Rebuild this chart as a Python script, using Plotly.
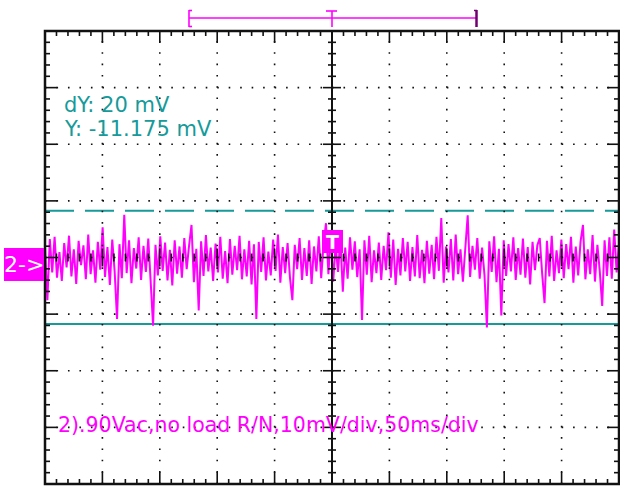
import plotly.graph_objects as go

# ---------------- data ----------------
time_per_div_ms = 50
volt_per_div_mv = 10
n_xdiv = 10
n_ydiv = 8
screen_center_mv = 0.55
cursor_y_mv = -11.175
cursor_dy_mv = 20
channel_label = "2->"
caption = "2).90Vac,no load R/N,10mV/div,50ms/div"
dy_text = "dY: 20 mV"
y_text = "Y: -11.175 mV"

noise_mv = [
    2.5, -7.0, 3.8, -2.1, 4.2, -3.0, 1.5, -3.6, 3.1, -1.2,
    4.4, -2.8, 2.0, -4.1, 3.5, -0.8, 2.7, -3.3, 4.6, -2.4,
    1.8, -3.9, 3.3, -1.6, 5.9, -2.9, 2.4, -4.3, 3.7, -1.9,
    -10.3, 2.9, -3.1, 8.1, -2.2, 3.6, -4.0, 2.2, -1.4, 4.1,
    -3.4, 2.6, -2.0, 3.9, -3.7, -11.5, 2.8, -2.6, 4.3, -1.8,
    3.2, -3.5, 1.9, -4.4, 3.6, -2.3, 2.5, -3.0, 4.0, -1.5,
    2.7, 6.3, -3.8, 2.1, -8.8, 3.4, -2.7, 4.5, -1.9, 2.3,
    -3.6, 3.0, -2.1, 4.2, -3.2, 1.7, -4.0, 3.8, -2.5, 2.6,
    -1.7, 4.4, -3.3, 2.0, -2.8, 3.5, -4.2, 2.9, -10.3, 3.3,
    -2.0, 4.1, -3.5, 1.6, -2.6, 3.7, -1.8, 4.6, -3.9, 2.4,
    -2.2, 3.1, -3.0, -7.0, 2.8, -1.5, 4.0, -3.4, 2.2, -2.7,
    3.6, -4.1, 2.5, -1.9, 4.3, -3.1, 3.0, 6.6, -2.4, 4.8,
    -3.7, 2.7, -2.0, 3.9, -5.5, 2.3, -3.2, 4.1, -1.6, 3.4,
    -2.9, 2.0, -10.5, 3.6, -2.5, 4.4, -3.8, 1.8, -2.2, 3.2,
    -3.4, 2.6, -1.7, 5.0, -3.0, 3.7, -4.3, 2.1, -2.6, 4.0,
    -1.9, 3.3, -3.6, 2.4, -2.8, 4.5, -3.1, 1.9, -4.0, 3.5,
    -2.3, 2.8, -3.3, 4.2, -1.8, 7.5, -3.9, 2.5, -2.1, 3.8,
    -3.5, 4.6, -2.4, 2.0, -3.7, 3.1, 8.0, -2.9, 2.6, -1.6,
    4.0, -3.2, 2.3, -2.6, -11.8, 3.4, -2.0, 4.3, -3.8, 2.1,
    -9.7, 3.6, -2.7, 2.9, -1.9, 4.1, -3.4, 2.2, -2.5, 3.9,
    -3.0, 2.4, -4.2, 3.3, -1.7, 2.7, 4.0, -2.3, -7.5, 3.5,
    -2.8, 4.4, -3.6, 1.8, -2.2, 3.7, -3.1, 2.9, -1.5, 4.2,
    -3.9, 2.5, -2.6, 3.4, 6.3, -3.3, 2.0, -2.4, 4.5, -3.7,
    2.8, -1.9, -8.0, 3.6, -2.7, 4.1, -3.2, 5.5, -2.1, 3.0,
]

# ---------------- geometry ----------------
W, H = 620, 488
L, R, T, B = 45, 1, 31, 4
PX0, PX1 = L, W - R
PY0, PY1 = T, H - B

half_t = n_xdiv * time_per_div_ms / 2
xmin, xmax = -half_t, half_t
half_v = n_ydiv * volt_per_div_mv / 2
ymin, ymax = screen_center_mv - half_v, screen_center_mv + half_v

n = len(noise_mv)
t_ms = [xmin + i * (xmax - xmin) / (n - 1) for i in range(n)]


def xpaper(px):
    return (px - PX0) / (PX1 - PX0)


def ypaper(py):
    return (PY1 - py) / (PY1 - PY0)


MAG = "#ff00ff"
TEAL = "#169a9a"
BLACK = "#111111"

fig = go.Figure()
fig.add_trace(go.Scatter(x=t_ms, y=noise_mv, mode="lines",
                         line=dict(color=MAG, width=2.0), hoverinfo="skip"))

shapes = []
xdiv_px = (PX1 - PX0) / n_xdiv
ydiv_px = (PY1 - PY0) / n_ydiv
xdot = f"1.6px,{xdiv_px/5-1.6:.2f}px"
ydot = f"1.6px,{ydiv_px/5-1.6:.2f}px"

# dotted grid
for k in range(1, n_xdiv):
    if k == n_xdiv // 2:
        continue
    xv = xmin + k * time_per_div_ms
    shapes.append(dict(type="line", xref="x", yref="y", x0=xv, x1=xv, y0=ymin, y1=ymax,
                       line=dict(color=BLACK, width=1.6, dash=ydot), layer="above"))
for k in range(1, n_ydiv):
    yv = ymin + k * volt_per_div_mv
    shapes.append(dict(type="line", xref="x", yref="y", x0=xmin, x1=xmax, y0=yv, y1=yv,
                       line=dict(color=BLACK, width=1.6, dash=xdot), layer="above"))

# cursors
shapes.append(dict(type="line", xref="paper", yref="y", x0=0, x1=1,
                   y0=cursor_y_mv + cursor_dy_mv, y1=cursor_y_mv + cursor_dy_mv,
                   line=dict(color=TEAL, width=2, dash="29px,11px"), layer="below"))
shapes.append(dict(type="line", xref="paper", yref="y", x0=0, x1=1,
                   y0=cursor_y_mv, y1=cursor_y_mv,
                   line=dict(color=TEAL, width=2), layer="below"))

# center vertical line
shapes.append(dict(type="line", xref="x", yref="paper", x0=0, x1=0, y0=0, y1=1,
                   line=dict(color=BLACK, width=2), layer="above"))

# ticks
yc = screen_center_mv
for i in range(n_xdiv * 5 + 1):
    xv = xmin + i * time_per_div_ms / 5
    major = (i % 5 == 0)
    ln = 12 if major else 5
    cl = 9 if major else 4
    shapes.append(dict(type="line", xref="x", yref="paper", x0=xv, x1=xv,
                       ysizemode="pixel", yanchor=1, y0=0, y1=-ln,
                       line=dict(color=BLACK, width=1.6)))
    shapes.append(dict(type="line", xref="x", yref="paper", x0=xv, x1=xv,
                       ysizemode="pixel", yanchor=0, y0=0, y1=ln,
                       line=dict(color=BLACK, width=1.6)))
    shapes.append(dict(type="line", xref="x", yref="y", x0=xv, x1=xv,
                       ysizemode="pixel", yanchor=yc, y0=-cl, y1=cl,
                       line=dict(color=BLACK, width=1.6)))
for i in range(n_ydiv * 5 + 1):
    yv = ymin + i * volt_per_div_mv / 5
    major = (i % 5 == 0)
    ln = 12 if major else 5
    cl = 9 if major else 4
    shapes.append(dict(type="line", xref="paper", yref="y", y0=yv, y1=yv,
                       xsizemode="pixel", xanchor=0, x0=0, x1=ln,
                       line=dict(color=BLACK, width=1.6)))
    shapes.append(dict(type="line", xref="paper", yref="y", y0=yv, y1=yv,
                       xsizemode="pixel", xanchor=1, x0=0, x1=-ln,
                       line=dict(color=BLACK, width=1.6)))
    shapes.append(dict(type="line", xref="x", yref="y", y0=yv, y1=yv,
                       xsizemode="pixel", xanchor=0, x0=-cl, x1=cl,
                       line=dict(color=BLACK, width=1.6)))

# border
shapes.append(dict(type="rect", xref="paper", yref="paper", x0=0, x1=1, y0=0, y1=1,
                   line=dict(color=BLACK, width=2.5), layer="above"))

# trigger T box
shapes.append(dict(type="rect", xref="paper", yref="paper", x0=xpaper(322), x1=xpaper(343),
                   y0=ypaper(253), y1=ypaper(230), line=dict(width=0), fillcolor=MAG))
# channel label box
shapes.append(dict(type="rect", xref="paper", yref="paper", x0=xpaper(4), x1=xpaper(44),
                   y0=ypaper(281), y1=ypaper(248), line=dict(width=0), fillcolor=MAG))

# top record bracket
by = ypaper(18)
shapes.append(dict(type="line", xref="paper", yref="paper", x0=xpaper(189), x1=xpaper(477),
                   y0=by, y1=by, line=dict(color=MAG, width=1.6)))
shapes.append(dict(type="line", xref="paper", yref="paper", x0=xpaper(189), x1=xpaper(189),
                   y0=ypaper(10), y1=ypaper(27), line=dict(color=MAG, width=1.6)))
for yy in (10.5, 26.5):
    shapes.append(dict(type="line", xref="paper", yref="paper", x0=xpaper(189), x1=xpaper(192),
                       y0=ypaper(yy), y1=ypaper(yy), line=dict(color=MAG, width=1.6)))
shapes.append(dict(type="line", xref="paper", yref="paper", x0=xpaper(476.5), x1=xpaper(476.5),
                   y0=ypaper(10), y1=ypaper(27), line=dict(color="#70006f", width=2.5)))
shapes.append(dict(type="line", xref="paper", yref="paper", x0=xpaper(474), x1=xpaper(477),
                   y0=ypaper(10.5), y1=ypaper(10.5), line=dict(color="#70006f", width=1.5)))
shapes.append(dict(type="line", xref="x", yref="paper", x0=0, x1=0,
                   y0=ypaper(11), y1=ypaper(27), line=dict(color=MAG, width=1.6)))
shapes.append(dict(type="line", xref="paper", yref="paper", x0=xpaper(326), x1=xpaper(337),
                   y0=ypaper(11), y1=ypaper(11), line=dict(color=MAG, width=1.6)))

FONT = "DejaVu Sans"
annotations = [
    dict(x=xpaper(62), y=ypaper(105), xref="paper", yref="paper", text=dy_text, showarrow=False,
         xanchor="left", yanchor="middle", font=dict(family=FONT, size=21, color=TEAL)),
    dict(x=xpaper(62), y=ypaper(129), xref="paper", yref="paper", text=y_text, showarrow=False,
         xanchor="left", yanchor="middle", font=dict(family=FONT, size=21, color=TEAL)),
    dict(x=xpaper(56), y=ypaper(425), xref="paper", yref="paper", text=caption, showarrow=False,
         xanchor="left", yanchor="middle", font=dict(family=FONT, size=20.5, color=MAG)),
    dict(x=xpaper(24), y=ypaper(264.5), xref="paper", yref="paper", text=channel_label,
         showarrow=False, xanchor="center", yanchor="middle",
         font=dict(family=FONT, size=22, color="white")),
    dict(x=xpaper(332.5), y=ypaper(241.5), xref="paper", yref="paper", text="<b>T</b>",
         showarrow=False, xanchor="center", yanchor="middle",
         font=dict(family=FONT, size=19, color="white")),
]

fig.update_layout(
    width=W, height=H,
    margin=dict(l=L, r=R, t=T, b=B, pad=0),
    paper_bgcolor="white", plot_bgcolor="white",
    showlegend=False,
    xaxis=dict(range=[xmin, xmax], visible=False, fixedrange=True),
    yaxis=dict(range=[ymin, ymax], visible=False, fixedrange=True),
    shapes=shapes,
    annotations=annotations,
)
fig.write_html("out.html")
